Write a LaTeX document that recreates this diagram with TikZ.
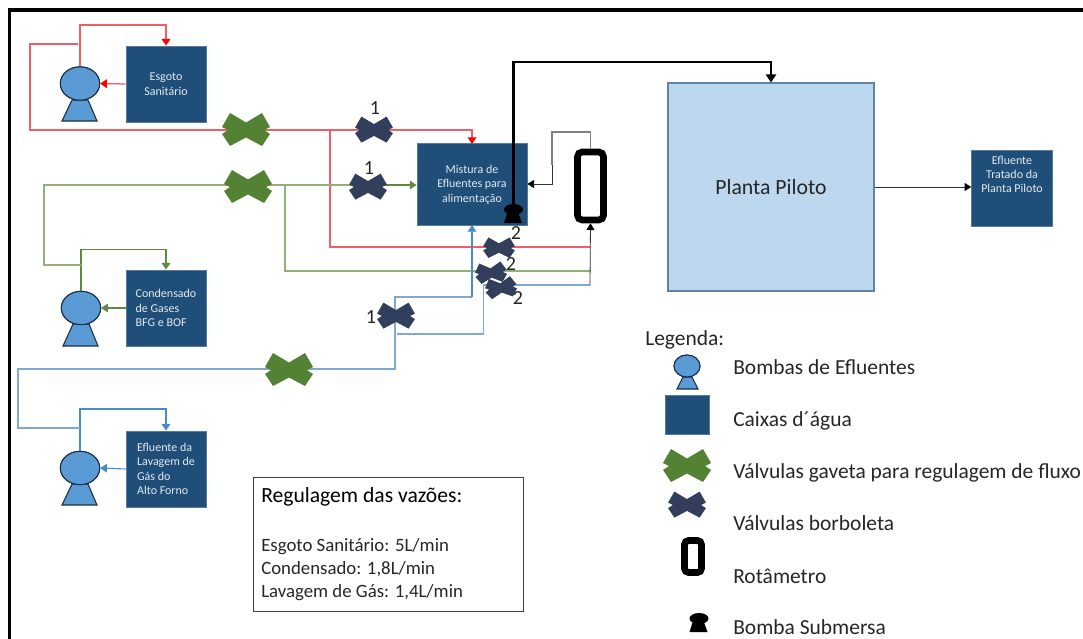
\documentclass[tikz,border=0pt]{standalone}
\usepackage{fontspec}
\setmainfont{Carlito}
\usetikzlibrary{arrows.meta,shapes.geometric}
\definecolor{boxblue}{HTML}{1F4E79}
\definecolor{pumpblue}{HTML}{5B9BD5}
\definecolor{pumpedge}{HTML}{1C2F45}
\definecolor{valvegreen}{HTML}{548235}
\definecolor{valvedark}{HTML}{323F5C}
\definecolor{plantblue}{HTML}{BDD7EE}
\definecolor{linered}{HTML}{E9606A}
\definecolor{arrowred}{HTML}{FF0000}
\definecolor{linegreen}{HTML}{93B078}
\definecolor{linegreendk}{HTML}{5F8A3F}
\definecolor{lineblue}{HTML}{7FA9CF}
\definecolor{lineblued}{HTML}{4A8CC8}
\definecolor{texttone}{HTML}{262626}
\newcommand{\fs}[2]{\fontsize{#1}{#2}\selectfont}
\tikzset{
  tank/.style={fill=boxblue,draw=boxblue!75!white,line width=0.6pt,minimum width=60pt,minimum height=57pt,inner sep=0pt,text=white!88!boxblue,font=\fs{9}{10.8}},
  pumphead/.style={ellipse,fill=pumpblue,draw=pumpedge,line width=0.8pt,minimum width=29.5pt,minimum height=25pt,inner sep=0pt},
  pumpbase/.style={fill=pumpblue,draw=pumpedge,line width=0.8pt},
  redl/.style={draw=linered,line width=0.95pt},
  greenl/.style={draw=linegreen,line width=0.95pt},
  bluel/.style={draw=lineblue,line width=0.95pt},
  redarrow/.style={draw=linered,line width=0.95pt,-{Triangle[length=5pt,width=6.5pt,color=arrowred]}},
  greenarrow/.style={draw=linegreendk,line width=0.85pt,-{Triangle[length=5pt,width=6.5pt,color=linegreendk]}},
  bluearrow/.style={draw=lineblued,line width=0.85pt,-{Triangle[length=5pt,width=6.5pt,color=lineblued]}},
  blackarrow/.style={draw=black!80,line width=0.6pt,-{Triangle[length=5pt,width=6pt,color=black]}},
  rota/.style={draw=black,line width=5pt,fill=white,rounded corners=3.5pt,inner sep=0pt},
  lab/.style={font=\fs{16.1}{19},inner sep=0pt,anchor=west,text=texttone},
  num/.style={font=\fs{15}{18},inner sep=0pt,text=texttone},
  valve/.pic={\fill[pic actions] (-16,-17)--(0,-7.5)--(16,-17)--(24,-3)--(18,0)--(24,4)--(16,16)--(0,7.5)--(-16,16)--(-24,4)--(-18,0)--(-24,-3)--cycle;},
  valveg/.style={fill=valvegreen},
  valved/.style={fill=valvedark,scale=0.79},
  valves/.style={fill=valvedark,xscale=0.66,yscale=0.62},
  subpump/.pic={\fill[black] (-6,8) -- (-9.5,19) -- (8.5,19) -- (4.5,8) -- cycle;
     \fill[black] (0,5.5) ellipse [x radius=9.5,y radius=5.5];},
}
\begin{document}
\begin{tikzpicture}[x=0.75pt,y=-0.75pt]
\useasboundingbox (0,0) rectangle (1083,639);
\draw[black,line width=2.6pt] (9.5,639) -- (9.5,10) -- (1083,10);

% tanks
\node[tank,align=center] (esgoto) at (166,84) {Esgoto\\Sanitário};
\node[tank,align=left] (cond) at (166,308) {Condensado\\de Gases\\BFG e BOF};
\node[tank,align=left] (lav) at (166,469) {Efluente da\\Lavagem de\\Gás do\\Alto Forno};
\node[tank,align=center,minimum width=82.5pt,minimum height=61pt] (mist) at (472,184.5) {Mistura de\\Efluentes para\\alimentação};
\node[draw=boxblue!60!plantblue,line width=0.8pt,fill=plantblue,minimum width=154.5pt,minimum height=156pt,inner sep=0pt,font=\fs{16.3}{19},text=texttone] (plant) at (771,187) {Planta Piloto};
\node[tank,align=center,minimum width=60.5pt,minimum height=57pt] (trat) at (1012,188) {};
\node[inner sep=0pt,align=center,text=white!88!boxblue,font=\fs{9}{10.8}] (trattxt) at (1012,174.5) {Efluente\\Tratado da\\Planta Piloto};

% pumps
\node[pumphead] (p1) at (80,83.5) {};
\node[pumphead] (p2) at (81,308) {};
\node[pumphead] (p3) at (80,468) {};
\node[pumphead,minimum width=19.5pt,minimum height=16.5pt] (p4) at (687,366) {};
\draw[pumpbase] (72,100) -- (62,121) -- (97,121) -- (88,100) -- cycle;
\draw[pumpbase] (73,324) -- (63,346) -- (98,346) -- (89,324) -- cycle;
\draw[pumpbase] (72,484) -- (62,505) -- (97,505) -- (88,484) -- cycle;
\draw[pumpbase] (683,377) -- (677,389) -- (698,389) -- (692,377) -- cycle;
\node[pumphead] at (80,83.5) {};
\node[pumphead] at (81,308) {};
\node[pumphead] at (80,468) {};
\node[pumphead,minimum width=19.5pt,minimum height=16.5pt] at (687,366) {};

% rotameter
\node[rota,minimum width=19.5pt,minimum height=51pt] (rot) at (590.5,186) {};
\node[rota,minimum width=12.75pt,minimum height=24pt,rounded corners=3pt] (rotleg) at (693,556.5) {};

% valve and junction positions
\coordinate (vg1) at (246,130);
\coordinate (vg2) at (248,187);
\coordinate (vg3) at (289,370);
\coordinate (vd1) at (374,130);
\coordinate (vd2) at (368,187);
\coordinate (vd3) at (396,316);
\coordinate (vs1) at (499,248);
\coordinate (vs2) at (491,273);
\coordinate (vs3) at (501,288);
\coordinate (rj) at (590,285);
\coordinate (psub) at (513.5,204);

% red
\draw[redarrow] (p1.north) -- (80,25) -- (166,25) -- (esgoto.north);
\draw[redarrow] (esgoto.west) -- (p1.east);
\draw[redl] (78,44) -- (30,44) -- (30,130) -- (vg1);
\draw[redl] (vg1) -- (vd1);
\draw[redarrow] (vd1) -- (472,130) -- (472,144);
\draw[redl] (330,130) -- (330,247) -- (590,247);

% green
\draw[greenarrow] (p2.north) -- (81,249.5) -- (166,249.5) -- (cond.north);
\draw[greenarrow] (cond.west) -- (p2.east);
\draw[greenl] (81,265) -- (44,265) -- (44,185) -- (vg2|-0,185);
\draw[greenl] (vg2|-0,185) -- (vd2|-0,185);
\draw[greenarrow] (vd2|-0,185) -- (mist.west|-0,185);
\draw[greenl] (285,185) -- (285,271) -- (590,271);

% blue
\draw[bluearrow] (p3.north) -- (80,409) -- (166,409) -- (lav.north);
\draw[bluearrow] (lav.west) -- (p3.east);
\draw[bluel] (80,428) -- (18,428) -- (18,369) -- (vg3|-0,369);
\draw[bluel] (vg3|-0,369) -- (395,369) -- (395,297) -- (472,297);
\draw[bluearrow] (472,297) -- (472,225);
\draw[bluel] (397,334) -- (483.5,334) -- (483.5,285) -- (rj);

% black
\draw[blackarrow] (rj) -- (rot.south);
\draw[draw=gray,line width=0.9pt] (rot.north) -- (590.5,132) -- (552,132) -- (552,165);
\draw[blackarrow] (552,165) -- (552,184) -- (mist.east|-0,184);
\draw[black,line width=2pt,-{Triangle[length=6pt,width=7.5pt]}] (psub) -- (513.5,62) -- (771,62) -- (plant.north);
\draw[blackarrow] (plant.east) -- (trat.west|-plant.east);

% valves
\pic[valveg] at (vg1) {valve};
\pic[valveg] at (vg2) {valve};
\pic[valveg] at (vg3) {valve};
\pic[valved] at (vd1) {valve};
\pic[valved] at (vd2) {valve};
\pic[valved] at (vd3) {valve};
\pic[valves] at (vs1) {valve};
\pic[valves,rotate=6] at (vs2) {valve};
\pic[valves,rotate=8] at (vs3) {valve};
\pic at (psub) {subpump};

% valve numbers
\node[num] (n1) at (375,108) {1};
\node[num] (n2) at (369,168) {1};
\node[num] (n3) at (371,317) {1};
\node[num] (n4) at (516,233) {2};
\node[num] (n5) at (511,264) {2};
\node[num] (n6) at (518,298) {2};

% flow box
\node[draw=black!75,line width=0.7pt,minimum width=203pt,minimum height=100.5pt,inner sep=0pt] (reg) at (388.5,544) {};
\node[inner sep=0pt,anchor=west,font=\fs{16.2}{19},text=black] (regt) at (261,497) {Regulagem das vazões:};
\node[inner sep=0pt,anchor=west,font=\fs{14.1}{17},text=texttone] (r1) at (261,547) {Esgoto Sanitário: 5L/min};
\node[inner sep=0pt,anchor=west,font=\fs{14.1}{17},text=texttone] (r2) at (261,569.5) {Condensado: 1,8L/min};
\node[inner sep=0pt,anchor=west,font=\fs{14.1}{17},text=texttone] (r3) at (261,592.5) {Lavagem de Gás: 1,4L/min};

% legend
\node[lab] (leg) at (645,340) {Legenda:};
\node[tank,minimum width=33.5pt,minimum height=29.5pt] (legbox) at (687.5,415) {};
\coordinate (lv1) at (687,466);
\coordinate (lv2) at (687,505);
\coordinate (lsub) at (699,613);
\pic[valveg] at (lv1) {valve};
\pic[valved] at (lv2) {valve};
\pic at (lsub) {subpump};
\node[lab] (t1) at (733,367.5) {Bombas de Efluentes};
\node[lab] (t2) at (733,421) {Caixas d´água};
\node[lab] (t3) at (733,473) {Válvulas gaveta para regulagem de fluxo};
\node[lab] (t4) at (733,523.5) {Válvulas borboleta};
\node[lab] (t5) at (733,576.5) {Rotâmetro};
\node[lab] (t6) at (733,627.5) {Bomba Submersa};
\end{tikzpicture}
\end{document}
